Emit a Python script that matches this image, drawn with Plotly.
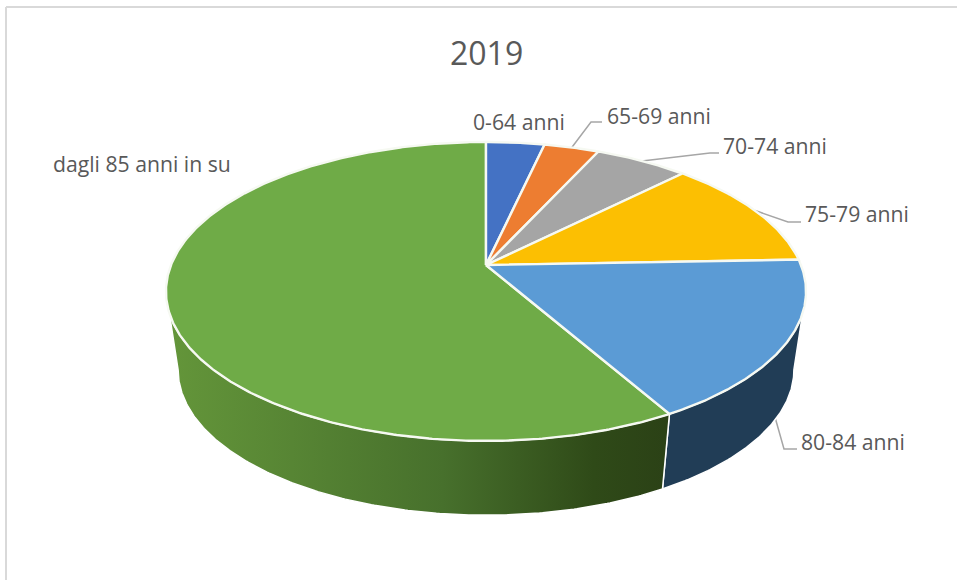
import numpy as np
import plotly.graph_objects as go

# Data (share of total, %)
title_text = "2019"
categories = ["0-64 anni", "65-69 anni", "70-74 anni", "75-79 anni", "80-84 anni", "dagli 85 anni in su"]
values = [3.5, 3.3, 5.6, 12.0, 17.4, 58.2]

# Styles
top_colors = ["#4472c4", "#ed7d31", "#a5a5a5", "#fcbf02", "#5b9bd5", "#6fab47"]
side_blue = "#213d56"
side_green_scale = [[0, "#64963a"], [0.25, "#578534"], [0.55, "#47702c"], [0.85, "#2f4a18"], [1, "#2b4116"]]
text_color = "#595959"
leader_color = "#a6a6a6"
font = "Open Sans"

# Layout (pixels of the page)
W, H = 957, 580
CX = 486
TOP_APEX_Y, BOT_APEX_Y = 265, 344.2
BOT_SCALE_X, BOT_SCALE_Y = 0.962, 0.972
A, B, C = 144.8, 315.0, 0.177   # perspective projection of the disc
label_pos = [(473, 122), (607, 116), (723, 146), (805, 214), (801, 442), (53, 164)]
leader_elbows = [None,
                 [(591, 122), (602, 122)],
                 [(710, 153), (719, 153)],
                 [(788, 222), (801, 222)],
                 [(784, 449), (797, 449)],
                 None]


def project(theta_deg, bottom=False):
    t = np.radians(theta_deg)
    u, v = np.sin(t), np.cos(t)
    w = 1 + C * v
    sx = BOT_SCALE_X if bottom else 1.0
    sy = BOT_SCALE_Y if bottom else 1.0
    y0 = BOT_APEX_Y if bottom else TOP_APEX_Y
    return CX + sx * B * u / w, y0 - sy * A * v / w


def arc(a, b):
    return np.linspace(a, b, max(2, int(abs(b - a) * 2)))


total = sum(values)
edges = np.concatenate([[0], np.cumsum(values) / total * 360])
fig = go.Figure()

# leader lines (under the pie)
for i, elbow in enumerate(leader_elbows):
    if not elbow:
        continue
    mid = (edges[i] + edges[i + 1]) / 2
    sx, sy = project(mid, bottom=(i == 4))
    fig.add_trace(go.Scatter(x=[float(sx)] + [p[0] for p in elbow], y=[float(sy)] + [p[1] for p in elbow],
                             mode="lines", line=dict(color=leader_color, width=1.5), hoverinfo="skip"))

# sides: visible wall runs between the two silhouette tangents of the disc
tangent_right = 90 + np.degrees(np.arcsin(C))
tangent_left = 270 - np.degrees(np.arcsin(C))
blue_a = arc(tangent_right, edges[5])
bx, by = project(blue_a)
bx2, by2 = project(blue_a[::-1], bottom=True)
fig.add_trace(go.Scatter(x=np.r_[bx, bx2, bx[0]], y=np.r_[by, by2, by[0]], mode="lines", fill="toself",
                         fillcolor=side_blue, line=dict(color="white", width=1.5), hoverinfo="skip"))
green_a = arc(edges[5], tangent_left)
gx, gy = project(green_a)
gx2, gy2 = project(green_a[::-1], bottom=True)
fig.add_trace(go.Scatter(x=np.r_[gx, gx2, gx[0]], y=np.r_[gy, gy2, gy[0]], mode="lines", fill="toself",
                         fillgradient=dict(type="horizontal", colorscale=side_green_scale),
                         line=dict(color="white", width=1.5), hoverinfo="skip"))

# top wedges
for i in [5, 0, 1, 2, 3, 4]:
    a = arc(edges[i], edges[i + 1])
    x, y = project(a)
    fig.add_trace(go.Scatter(x=np.r_[CX, x, CX], y=np.r_[TOP_APEX_Y, y, TOP_APEX_Y], mode="lines", fill="toself",
                             fillcolor=top_colors[i], line=dict(color="#f6f9f2", width=2.4),
                             name=categories[i], hoverinfo="name"))

# labels
for name, (lx, ly) in zip(categories, label_pos):
    fig.add_annotation(x=lx, y=ly - 1, text=name, showarrow=False, xanchor="left", yanchor="middle", xshift=-2,
                       font=dict(family=font, size=21.2, color=text_color))
fig.add_annotation(x=CX, y=52, text=title_text, showarrow=False, xanchor="center", yanchor="middle",
                   font=dict(family=font, size=32, color=text_color))

# chart frame: left and top edges only
fig.add_shape(type="line", x0=6, x1=6, y0=7, y1=H, line=dict(color="#d9d9d9", width=2))
fig.add_shape(type="line", x0=6, x1=W, y0=7, y1=7, line=dict(color="#d9d9d9", width=2))

fig.update_layout(width=W, height=H, margin=dict(l=0, r=0, t=0, b=0), showlegend=False,
                  paper_bgcolor="white", plot_bgcolor="white",
                  xaxis=dict(range=[0, W], visible=False, fixedrange=True),
                  yaxis=dict(range=[H, 0], visible=False, fixedrange=True))
fig.write_html("out.html", config=dict(displayModeBar=False),
               post_script="document.body.style.margin='0';document.body.style.overflow='hidden';")
